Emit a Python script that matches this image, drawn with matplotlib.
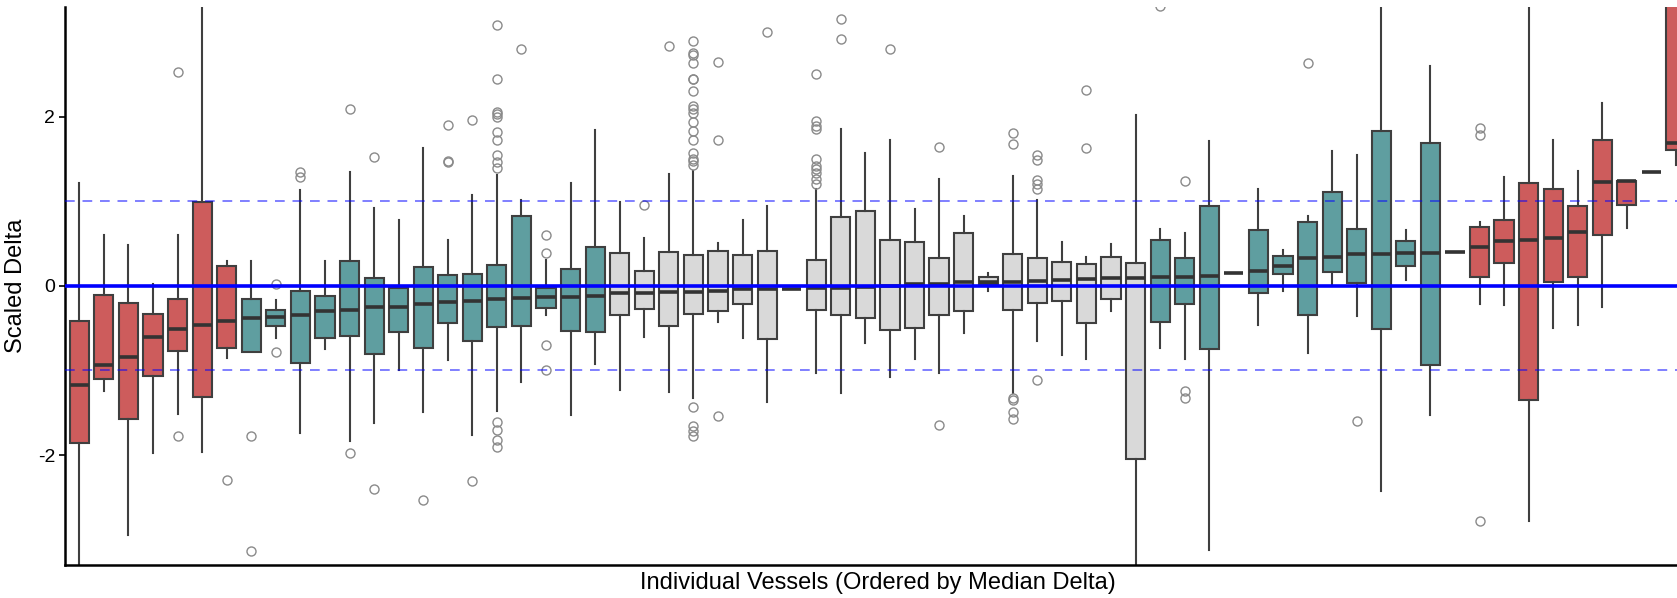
import matplotlib
matplotlib.use("Agg")
import matplotlib.pyplot as plt

plt.rcParams['font.family'] = ['Liberation Sans', 'DejaVu Sans']

# DATA: one box per vessel, ordered by median delta
medians = [-1.17, -0.94, -0.84, -0.60, -0.51, -0.46, -0.42, -0.38, -0.37, -0.34,
           -0.30, -0.29, -0.25, -0.25, -0.21, -0.19, -0.18, -0.16, -0.14, -0.13,
           -0.13, -0.12, -0.08, -0.08, -0.07, -0.07, -0.06, -0.04, -0.04, -0.035,
           -0.03, -0.02, -0.01, 0.00, 0.02, 0.02, 0.04, 0.05, 0.05, 0.06,
           0.07, 0.08, 0.09, 0.09, 0.11, 0.11, 0.12, 0.15, 0.17, 0.23,
           0.33, 0.34, 0.38, 0.38, 0.39, 0.39, 0.40, 0.46, 0.53, 0.54,
           0.57, 0.64, 1.23, 1.24, 1.34, 1.69]
q1 = [-1.86, -1.10, -1.58, -1.06, -0.77, -1.31, -0.74, -0.78, -0.47, -0.91,
      -0.62, -0.59, -0.80, -0.55, -0.74, -0.44, -0.65, -0.49, -0.47, -0.26,
      -0.53, -0.55, -0.34, -0.27, -0.48, -0.33, -0.30, -0.21, -0.63, -0.035,
      -0.28, -0.34, -0.38, -0.52, -0.50, -0.34, -0.30, 0.02, -0.29, -0.20,
      -0.18, -0.44, -0.16, -2.05, -0.43, -0.21, -0.75, 0.15, -0.09, 0.14,
      -0.35, 0.16, 0.03, -0.51, 0.23, -0.94, 0.40, 0.11, 0.27, -1.35,
      0.04, 0.10, 0.60, 0.95, 1.34, 1.61]
q3 = [-0.41, -0.11, -0.20, -0.33, -0.16, 0.99, 0.24, -0.15, -0.28, -0.06,
      -0.12, 0.29, 0.09, -0.02, 0.22, 0.13, 0.14, 0.25, 0.83, -0.02,
      0.20, 0.46, 0.39, 0.17, 0.40, 0.37, 0.41, 0.36, 0.41, -0.035,
      0.30, 0.81, 0.88, 0.54, 0.52, 0.33, 0.62, 0.10, 0.38, 0.33,
      0.28, 0.26, 0.34, 0.27, 0.54, 0.33, 0.94, 0.15, 0.66, 0.35,
      0.75, 1.11, 0.67, 1.83, 0.53, 1.69, 0.40, 0.70, 0.78, 1.22,
      1.15, 0.94, 1.72, 1.24, 1.34, 3.60]
whislo = [-3.60, -1.24, -2.94, -1.98, -1.52, -1.97, -0.85, -0.78, -0.62, -1.74,
          -0.75, -1.83, -1.62, -0.99, -1.49, -0.88, -1.76, -1.48, -1.14, -0.34,
          -1.53, -0.92, -1.23, -0.61, -1.26, -1.32, -0.43, -0.62, -1.37, -0.035,
          -1.03, -1.27, -0.68, -1.08, -0.87, -1.03, -0.56, -0.06, -1.27, -0.65,
          -0.82, -0.87, -0.30, -3.60, -0.73, -0.86, -3.12, 0.15, -0.46, -0.06,
          -0.79, 0.02, -0.36, -2.42, 0.07, -1.53, 0.40, -0.21, -0.23, -2.78,
          -0.50, -0.46, -0.25, 0.68, 1.34, 1.43]
whishi = [1.21, 0.60, 0.48, 0.02, 0.60, 3.60, 0.29, 0.29, -0.17, 1.13,
          0.29, 1.35, 0.92, 0.78, 1.63, 0.54, 1.07, 1.31, 1.01, 0.31,
          1.21, 1.84, 0.99, 0.57, 1.32, 1.36, 0.51, 0.78, 0.94, -0.035,
          1.14, 1.86, 1.57, 1.73, 0.91, 1.26, 0.82, 0.15, 1.30, 1.01,
          0.52, 0.34, 0.49, 2.02, 0.67, 0.62, 1.71, 0.15, 1.15, 0.42,
          0.83, 1.60, 1.55, 3.60, 0.66, 2.60, 0.40, 0.76, 1.29, 3.60,
          1.72, 1.36, 2.16, 1.24, 1.34, 3.60]
fliers = {
    4: [2.53, -1.78],
    6: [-2.29],
    7: [-1.78, -3.14],
    8: [0.02, -0.78],
    9: [1.34, 1.29],
    11: [2.09, -1.98],
    12: [1.52, -2.40],
    14: [-2.53],
    15: [1.90, 1.47, 1.46],
    16: [1.96, -2.31],
    17: [1.39, 1.46, 1.55, 1.73, 1.82, 2.00, 2.03, 2.05, 2.44, 3.08,
         -1.61, -1.71, -1.82, -1.90],
    18: [2.80],
    19: [0.60, 0.39, -0.70, -0.99],
    23: [0.96],
    24: [2.84],
    25: [1.43, 1.47, 1.50, 1.57, 1.72, 1.83, 1.94, 2.04, 2.09, 2.13, 2.30,
         2.44, 2.45, 2.64, 2.73, 2.75, 2.89, -1.43, -1.66, -1.72, -1.77],
    26: [2.65, 1.73, -1.54],
    28: [3.00],
    30: [1.20, 1.26, 1.33, 1.38, 1.42, 1.50, 1.85, 1.89, 1.95, 2.51],
    31: [2.92, 3.15],
    33: [2.80],
    35: [1.64, -1.64],
    38: [1.81, 1.68, -1.33, -1.35, -1.49, -1.58],
    39: [1.55, 1.49, 1.25, 1.20, 1.14, -1.11],
    41: [2.32, 1.63],
    44: [3.31],
    45: [1.24, -1.24, -1.33],
    50: [2.63],
    52: [-1.60],
    57: [1.87, 1.78, -2.78],
}
groups = ['red'] * 7 + ['teal'] * 15 + ['gray'] * 22 + ['teal'] * 13 + ['red'] * 9

palette = {'red': '#CD5C5C', 'teal': '#5F9EA0', 'gray': '#D9D9D9'}

stats = []
for i in range(len(medians)):
    stats.append({'med': medians[i], 'q1': q1[i], 'q3': q3[i],
                  'whislo': whislo[i], 'whishi': whishi[i],
                  'fliers': fliers.get(i, [])})

fig = plt.figure(figsize=(16.77, 5.98), dpi=100)
fig.patch.set_facecolor('white')
ax = fig.add_axes([0.0388, 0.0552, 0.9612, 0.9336])

edge = '#3f3f3f'
bp = ax.bxp(stats, positions=range(len(stats)), widths=0.78, patch_artist=True,
            showcaps=False,
            boxprops=dict(edgecolor=edge, linewidth=1.5),
            whiskerprops=dict(color=edge, linewidth=1.5),
            medianprops=dict(color='#333333', linewidth=2.6),
            flierprops=dict(marker='o', markerfacecolor='none',
                            markeredgecolor='#8a8a8a', markersize=6.5,
                            markeredgewidth=1.0))
for patch, g in zip(bp['boxes'], groups):
    patch.set_facecolor(palette[g])

ax.axhline(0, color='blue', linewidth=2.6, zorder=5)
ax.axhline(1, color='blue', linewidth=1.4, linestyle=(0, (5, 4)), alpha=0.5, zorder=5)
ax.axhline(-1, color='blue', linewidth=1.4, linestyle=(0, (5, 4)), alpha=0.5, zorder=5)

ax.set_xlim(-0.58, 65.04)
ax.set_ylim(-3.3, 3.3)
ax.set_yticks([-2, 0, 2])
ax.set_yticklabels(['-2', '0', '2'], fontsize=14)
ax.set_xticks([])
ax.tick_params(axis='y', length=4, width=1.2, pad=3)
ax.spines['top'].set_visible(False)
ax.spines['right'].set_visible(False)
ax.spines['left'].set_linewidth(1.8)
ax.spines['bottom'].set_linewidth(1.8)
ax.set_ylabel('Scaled Delta', fontsize=17)
ax.yaxis.set_label_coords(-0.0236, 0.5)
ax.set_xlabel('Individual Vessels (Ordered by Median Delta)', fontsize=17)
ax.xaxis.set_label_coords(0.504, -0.012)

fig.savefig('out.png', dpi=100)
